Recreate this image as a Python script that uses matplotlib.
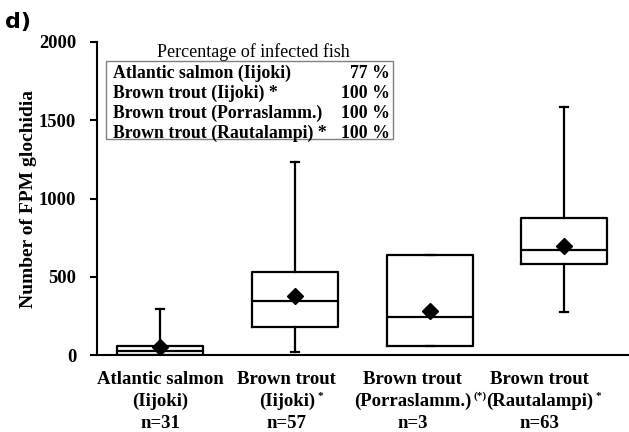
import matplotlib
matplotlib.use("Agg")
import matplotlib.pyplot as plt
import matplotlib.transforms as mtransforms
from matplotlib.patches import Rectangle

# ---- data ----
groups = ["Atlantic salmon", "Brown trout", "Brown trout", "Brown trout"]
sites = ["(Iijoki)", "(Iijoki)", "(Porraslamm.)", "(Rautalampi)"]
sig_marks = ["", "*", "(*)", "*"]
n_values = [31, 57, 3, 63]
whisker_low = [0, 17, 55, 277]
q1 = [0, 181, 55, 580]
medians = [27, 347, 245, 669]
q3 = [59, 528, 637, 873]
whisker_high = [294, 1233, 637, 1583]
means = [53, 377, 281, 698]

table_labels = ["Atlantic salmon (Iijoki)", "Brown trout (Iijoki) *",
                "Brown trout (Porraslamm.)", "Brown trout (Rautalampi) *"]
table_pct = ["77 %", "100 %", "100 %", "100 %"]
yticks = [0, 500, 1000, 1500, 2000]

serif = ["Liberation Serif", "DejaVu Serif"]

fig = plt.figure(figsize=(6.29, 4.32), dpi=100)
ax = fig.add_axes([97/629, 77/432, 1 - 97/629, (355-42)/432])

stats = []
for i in range(len(groups)):
    stats.append(dict(med=medians[i], q1=q1[i], q3=q3[i],
                      whislo=whisker_low[i], whishi=whisker_high[i],
                      mean=means[i], fliers=[], label=""))
positions = [0, 1.0, 2.0, 3.0]
lw = 1.6
ax.bxp(stats, positions=positions, widths=0.64, showmeans=True,
       showfliers=False,
       boxprops=dict(color="black", linewidth=lw),
       medianprops=dict(color="black", linewidth=lw),
       whiskerprops=dict(color="black", linewidth=lw),
       capprops=dict(color="black", linewidth=lw),
       capwidths=0.06,
       meanprops=dict(marker="D", markerfacecolor="black",
                      markeredgecolor="black", markersize=8))

ax.set_xlim(-0.47, 3.48)
ax.set_ylim(0, 2000)
ax.set_yticks(yticks)
ax.set_yticklabels([str(t) for t in yticks], fontfamily=serif,
                   fontweight="bold", fontsize=13.3)
ax.tick_params(axis="y", direction="out", length=5, width=1.5, pad=10)
ax.set_xticks([])
for s in ["top", "right"]:
    ax.spines[s].set_visible(False)
ax.spines["left"].set_linewidth(1.5)
ax.spines["bottom"].set_linewidth(1.5)

# y label
fig.text(28.5/629, 1 - 198.5/432, "Number of FPM glochidia", rotation=90,
         ha="center", va="center", fontfamily=serif, fontweight="bold",
         fontsize=14)

# panel letter
fig.text(5/629, 1 - 22/432, "d)", ha="left", va="center",
         fontfamily="DejaVu Sans", fontweight="bold", fontsize=16)

# x category labels
trans = mtransforms.blended_transform_factory(ax.transData, fig.transFigure)
label_x = [0.0, 0.94, 1.875, 2.815]
line_y = [1 - 379/432, 1 - 401/432, 1 - 423/432]
for i in range(len(groups)):
    kw = dict(transform=trans, ha="center", va="center", fontfamily=serif,
              fontweight="bold", fontsize=13.5)
    ax.text(label_x[i], line_y[0], groups[i], **kw)
    t2 = ax.text(label_x[i], line_y[1], sites[i], **kw)
    ax.text(label_x[i], line_y[2], f"n={n_values[i]}", **kw)
    if sig_marks[i]:
        ax.annotate(sig_marks[i], xy=(1, 0.78), xycoords=t2,
                    xytext=(1.5, 0), textcoords="offset points",
                    ha="left", va="center", fontfamily=serif,
                    fontweight="bold", fontsize=8)

# inset table
fig.text(253/629, 1 - 52/432, "Percentage of infected fish",
         ha="center", va="center", fontfamily=serif, fontsize=13)
rect = Rectangle((106.3/629, 1 - 139/432), (392.7-106.3)/629, (139-60.7)/432,
                 transform=fig.transFigure, facecolor="white",
                 edgecolor="#808080", linewidth=1.0)
fig.add_artist(rect)
row_y = [73, 93, 113, 133]
for lab, pct, yy in zip(table_labels, table_pct, row_y):
    fig.text(113/629, 1 - yy/432, lab, ha="left", va="center",
             fontfamily=serif, fontweight="bold", fontsize=12.8)
    fig.text(390/629, 1 - yy/432, pct, ha="right", va="center",
             fontfamily=serif, fontweight="bold", fontsize=12.8)

fig.savefig("out.png", dpi=100)
